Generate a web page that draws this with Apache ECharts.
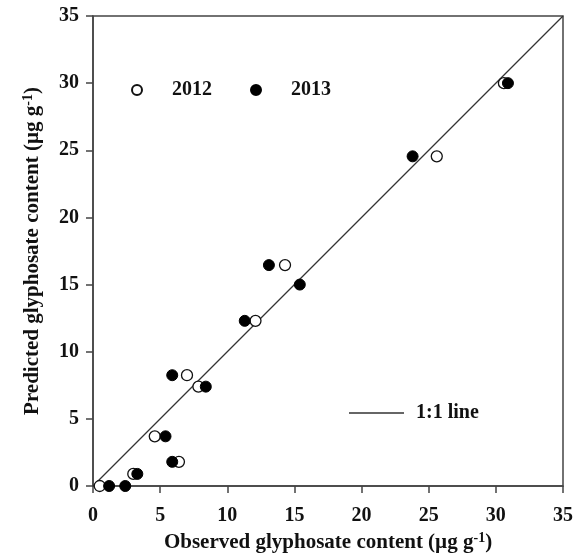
<!DOCTYPE html>
<html>
<head>
<meta charset="utf-8">
<script src="https://cdn.jsdelivr.net/npm/echarts@6/dist/echarts.min.js"></script>
<style>
  html, body { margin: 0; padding: 0; background: #fff; }
  #chart { width: 582px; height: 553px; }
</style>
</head>
<body>
<div id="chart"></div>
<script>
// observed vs predicted glyphosate, [observed, predicted]
const data2012 = [
  [0.5, 0], [3.0, 0.9], [4.6, 3.7], [6.4, 1.8], [7.0, 8.25],
  [7.85, 7.4], [12.1, 12.3], [14.3, 16.45], [25.6, 24.55], [30.6, 30.0]
]
const data2013 = [
  [1.2, 0], [2.4, 0], [3.3, 0.9], [5.4, 3.7], [5.9, 1.8], [5.9, 8.25],
  [8.4, 7.4], [11.3, 12.3], [13.1, 16.45], [15.4, 15.0], [23.8, 24.55], [30.9, 30.0]
]
const oneToOne = [[0, 0], [35, 35]]
const axisMin = 0
const axisMax = 35
const axisStep = 5

const font = 'Liberation Serif, Times New Roman, serif'
const axisColor = '#444'

const chart = echarts.init(document.getElementById('chart'))

const axisCommon = {
  type: 'value',
  min: axisMin,
  max: axisMax,
  interval: axisStep,
  nameLocation: 'middle',
  axisLine: { show: true, lineStyle: { color: axisColor, width: 1.5 } },
  axisTick: { show: true, inside: false, length: 7, lineStyle: { color: axisColor, width: 1.5 } },
  splitLine: { show: false },
  axisLabel: { color: '#111', fontFamily: font, fontWeight: 'bold', fontSize: 20 },
  nameTextStyle: {
    color: '#111', fontFamily: font, fontWeight: 'bold', fontSize: 21,
    rich: {
      sup: { fontFamily: font, fontWeight: 'bold', fontSize: 14, color: '#111', padding: [0, 0, 10, 0] }
    }
  }
}

const options = {
  animation: false,
  grid: {
    left: 93, right: 19, top: 16, bottom: 67,
    outerBoundsMode: 'none',
    show: true, borderColor: axisColor, borderWidth: 1.5
  },
  xAxis: Object.assign({}, axisCommon, {
    name: 'Observed glyphosate content (µg g{sup|-1})',
    nameGap: 37,
    axisLabel: Object.assign({}, axisCommon.axisLabel, { margin: 20 })
  }),
  yAxis: Object.assign({}, axisCommon, {
    name: 'Predicted glyphosate content (µg g{sup|-1})',
    nameGap: 48,
    axisLabel: Object.assign({}, axisCommon.axisLabel, { margin: 14 })
  }),
  legend: [
    {
      data: ['2012', '2013'],
      left: 131, top: 80,
      padding: 0,
      itemWidth: 10, itemHeight: 10,
      itemGap: 38,
      textStyle: { fontFamily: font, fontWeight: 'bold', fontSize: 20, color: '#111', padding: [0, 0, 0, 25] }
    },
    {
      data: [{ name: '1:1 line', icon: 'rect' }],
      left: 349, top: 403,
      padding: 0,
      itemWidth: 55, itemHeight: 1.5,
      textStyle: { fontFamily: font, fontWeight: 'bold', fontSize: 20, color: '#111', padding: [0, 0, 0, 7] }
    }
  ],
  series: [
    {
      name: '1:1 line',
      type: 'line',
      data: oneToOne,
      symbol: 'none',
      lineStyle: { color: '#333', width: 1.2 },
      itemStyle: { color: '#333' },
      z: 1
    },
    {
      name: '2012',
      type: 'scatter',
      data: data2012,
      symbol: 'circle',
      symbolSize: 11,
      itemStyle: { color: '#fff', borderColor: '#111', borderWidth: 1.3, opacity: 1 },
      z: 3
    },
    {
      name: '2013',
      type: 'scatter',
      data: data2013,
      symbol: 'circle',
      symbolSize: 11,
      itemStyle: { color: '#000', borderColor: '#000', borderWidth: 1, opacity: 1 },
      z: 4
    }
  ]
}

chart.setOption(options)
</script>
</body>
</html>
